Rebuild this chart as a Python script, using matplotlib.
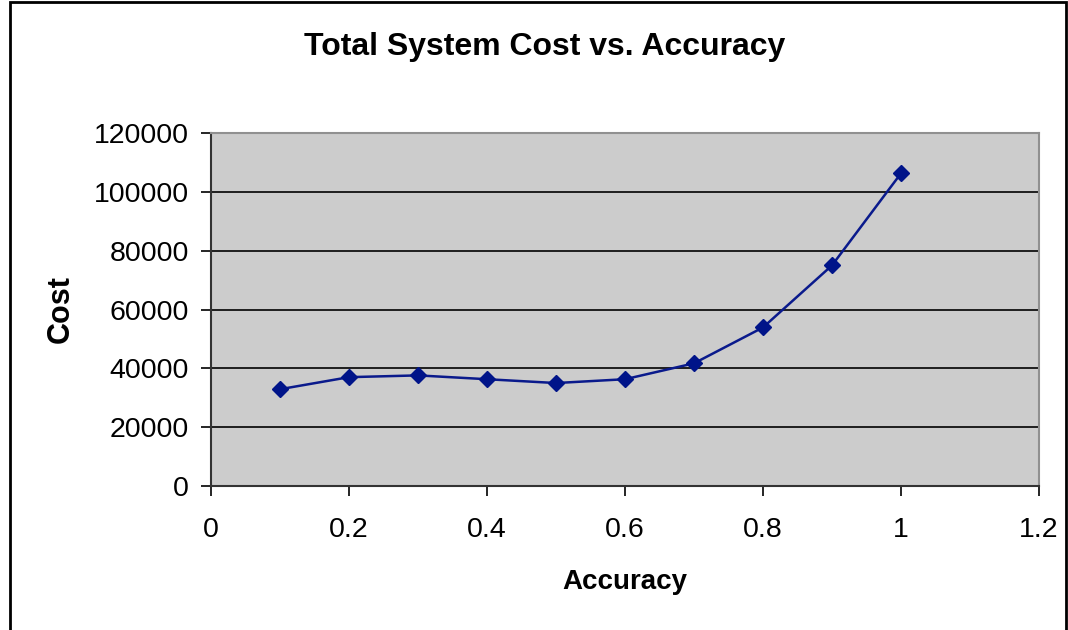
import matplotlib
matplotlib.use('Agg')
import matplotlib.pyplot as plt
from matplotlib.patches import Rectangle

plt.rcParams['font.family'] = ['Liberation Sans', 'DejaVu Sans']

#values
accuracy = [0.1, 0.2, 0.3, 0.4, 0.5, 0.6, 0.7, 0.8, 0.9, 1.0]
cost = [32900, 37000, 37600, 36300, 35000, 36300, 41700, 53900, 75000, 106300]
x_ticks = [0, 0.2, 0.4, 0.6, 0.8, 1.0, 1.2]
x_tick_labels = ['0', '0.2', '0.4', '0.6', '0.8', '1', '1.2']
y_ticks = [0, 20000, 40000, 60000, 80000, 100000, 120000]

fig = plt.figure(figsize=(10.68, 6.3), dpi=100)
ax = fig.add_axes([211/1068, 1 - 486/630, (1039 - 211)/1068, (486 - 133)/630])

ax.set_facecolor('#cccccc')
ax.plot(accuracy, cost, color='#0a1a8c', linewidth=1.8, marker='D', markersize=8,
        markerfacecolor='#001489', markeredgecolor='#001489', zorder=3)

ax.set_xlim(0, 1.2)
ax.set_ylim(0, 120000)
ax.set_xticks(x_ticks)
ax.set_xticklabels(x_tick_labels)
ax.set_yticks(y_ticks)
ax.yaxis.grid(True, color='black', linewidth=1.2)
ax.set_axisbelow(True)

ax.tick_params(axis='both', direction='out', length=7, width=1.2, labelsize=20.5, colors='black')
ax.tick_params(axis='x', pad=15)
ax.tick_params(axis='y', pad=9)

for side in ['top', 'right']:
    ax.spines[side].set_color('#909090')
    ax.spines[side].set_linewidth(1.5)
for side in ['left', 'bottom']:
    ax.spines[side].set_color('#333333')
    ax.spines[side].set_linewidth(1.5)

ax.set_xlabel('Accuracy', fontsize=20, fontweight='bold', labelpad=19)
ax.set_ylabel('Cost', fontsize=22, fontweight='bold', labelpad=13)

#title is centred on the whole chart, not on the plot area
fig.text(545/1068, 1 - 47/630, 'Total System Cost vs. Accuracy', fontsize=23,
         fontweight='bold', ha='center', va='center')

#outer chart frame
fig.patches.append(Rectangle((10/1068, -0.05), (1066 - 10)/1068, 1.05 - 1.5/630,
                             transform=fig.transFigure, fill=False,
                             edgecolor='black', linewidth=2))

fig.savefig('out.png', dpi=100)
